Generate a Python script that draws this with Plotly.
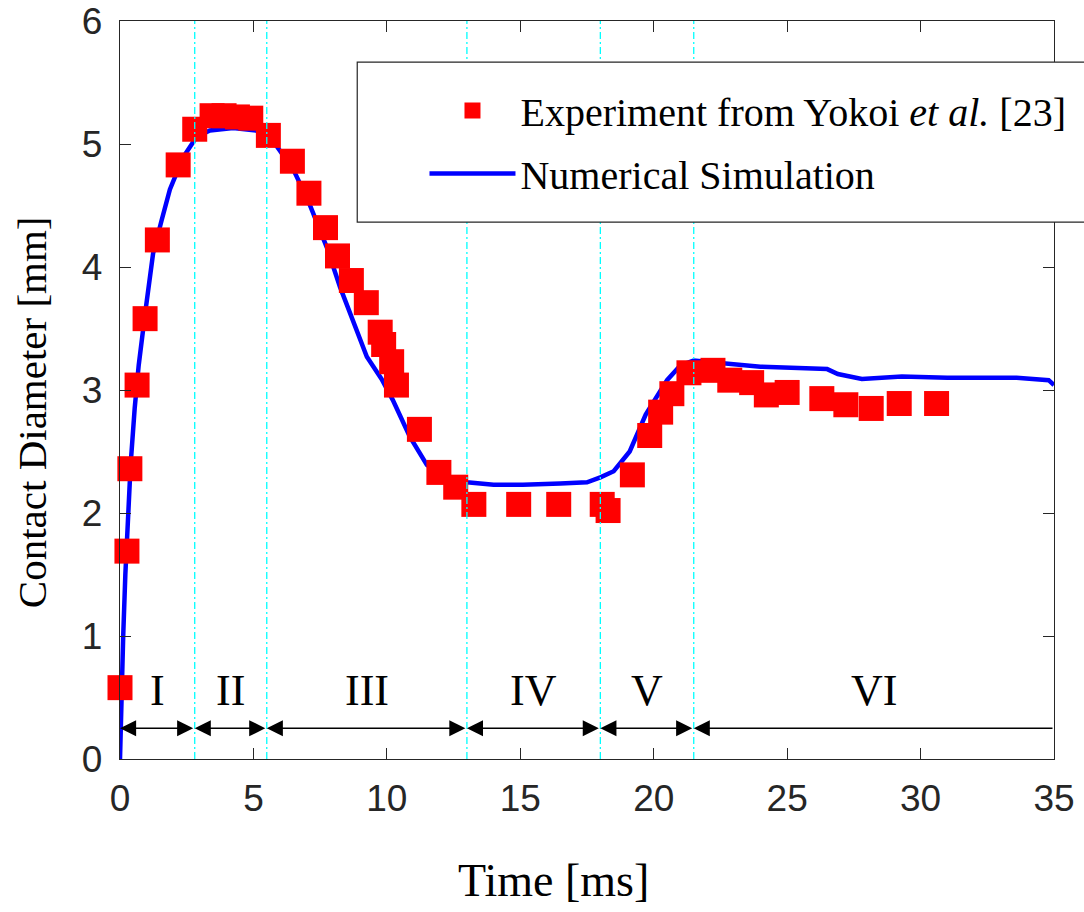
import plotly.graph_objects as go

# experiment, Yokoi et al. [23]
exp_t = [0.0, 0.26, 0.37, 0.64, 0.94, 1.40, 2.18, 2.80, 3.45, 3.90, 4.40, 4.90,
         5.56, 6.46, 7.08, 7.70, 8.15, 8.67, 9.23, 9.75, 9.88, 10.18, 10.36,
         11.22, 11.95, 12.58, 13.26, 14.94, 16.44, 18.07, 18.29, 19.20, 19.85,
         20.26, 20.68, 21.32, 22.22, 22.85, 23.67, 24.22, 25.00, 26.30, 27.20,
         28.15, 29.20, 30.60]
exp_d = [0.58, 1.69, 2.36, 3.04, 3.58, 4.22, 4.83, 5.12, 5.23, 5.23, 5.22, 5.21,
         5.07, 4.86, 4.60, 4.32, 4.09, 3.89, 3.71, 3.47, 3.37, 3.23, 3.04,
         2.68, 2.33, 2.21, 2.07, 2.07, 2.07, 2.07, 2.02, 2.31, 2.63,
         2.82, 2.97, 3.14, 3.16, 3.08, 3.06, 2.96, 2.98, 2.93, 2.88,
         2.85, 2.89, 2.89]

# numerical simulation
sim_t = [0.0, 0.05, 0.12, 0.2, 0.3, 0.4, 0.55, 0.7, 0.94, 1.24, 1.56, 1.87,
         2.36, 2.88, 3.37, 4.24, 5.1, 5.5, 5.88, 6.5, 7.05, 7.75, 8.24, 8.73,
         9.25, 9.8, 10.22, 10.86, 11.5, 12.25, 13.0, 14.0, 15.1, 16.5, 17.5,
         18.0, 18.5, 19.1, 19.7, 20.5, 21.0, 21.5, 22.9, 24.0, 26.5, 26.9,
         27.8, 29.3, 31.0, 33.6, 34.8, 35.0]
sim_d = [0.0, 0.5, 1.0, 1.5, 2.0, 2.4, 2.85, 3.2, 3.62, 4.11, 4.38, 4.63,
         4.89, 5.06, 5.11, 5.13, 5.11, 5.06, 4.98, 4.79, 4.54, 4.16, 3.84, 3.57,
         3.27, 3.09, 2.92, 2.62, 2.39, 2.28, 2.25, 2.23, 2.23, 2.24, 2.25,
         2.29, 2.34, 2.5, 2.8, 3.08, 3.2, 3.24, 3.21, 3.19, 3.17, 3.13,
         3.09, 3.11, 3.10, 3.10, 3.08, 3.04]

# impact regimes
regime_edges = [0, 2.8, 5.5, 13, 18, 21.5, 35]
regime_names = ["I", "II", "III", "IV", "V", "VI"]
arrow_y = 0.25
label_y = 0.56

x_ticks = [0, 5, 10, 15, 20, 25, 30, 35]
y_ticks = [0, 1, 2, 3, 4, 5, 6]

serif = "Times New Roman, Liberation Serif, serif"
sans = "Arial, Liberation Sans, sans-serif"
axis_col = "#262626"

fig = go.Figure()

fig.add_trace(go.Scatter(
    x=sim_t, y=sim_d, mode="lines", name="Numerical Simulation",
    line=dict(color="#0000FF", width=4.5), legendrank=2, legendgroup="sim"))

fig.add_trace(go.Scatter(
    x=exp_t, y=exp_d, mode="markers", name="Experiment from Yokoi <i>et al.</i> [23]",
    marker=dict(color="#FF0000", symbol="square", size=25, line=dict(width=0)),
    cliponaxis=False, legendrank=1, legendgroup="exp"))

# regime boundaries
for xb in regime_edges[1:-1]:
    fig.add_vline(x=xb, line=dict(color="#00FFFF", width=1.3, dash="7px,3px,2px,3px"))

# regime arrows + labels
for i, name in enumerate(regime_names):
    x0, x1 = regime_edges[i], regime_edges[i + 1]
    last = i == len(regime_names) - 1
    fig.add_annotation(
        x=x0, y=arrow_y, ax=x1, ay=arrow_y, xref="x", yref="y", axref="x", ayref="y",
        text="", showarrow=True, arrowhead=2, startarrowhead=2,
        arrowside="end" if last else "end+start",
        arrowsize=2.3, arrowwidth=1.4, arrowcolor="black", standoff=0, startstandoff=0)
    fig.add_annotation(
        x=(x0 + x1) / 2, y=label_y, xref="x", yref="y", text=name, showarrow=False,
        font=dict(family=serif, size=44, color="black"))

# axis titles (placed as in the original, a bit off-centre)
fig.add_annotation(text="Time [ms]", xref="paper", yref="paper", x=0.4636, y=0,
                   yshift=-121, showarrow=False, yanchor="middle",
                   font=dict(family=serif, size=46, color="black"))
fig.add_annotation(text="Contact Diameter [mm]", xref="paper", yref="paper", x=0, y=0.47,
                   xshift=-88, textangle=-90, showarrow=False, xanchor="center",
                   font=dict(family=serif, size=41, color="black"))

# legend box (MATLAB style)
fig.add_shape(type="rect", xref="paper", yref="paper", x0=0.254, x1=1.06,
              y0=0.7276, y1=0.9444, fillcolor="white",
              line=dict(color=axis_col, width=1.2))

fig.update_xaxes(
    range=[0, 35], tickvals=x_ticks, ticks="inside", ticklen=11, tickwidth=1.3,
    tickcolor=axis_col, showline=True, linecolor=axis_col, linewidth=1.3,
    mirror="ticks", showgrid=False, zeroline=False, automargin=False,
    tickfont=dict(family=sans, size=37, color=axis_col), ticklabelstandoff=6)

fig.update_yaxes(
    range=[0, 6], tickvals=y_ticks, ticks="inside", ticklen=11, tickwidth=1.3,
    tickcolor=axis_col, showline=True, linecolor=axis_col, linewidth=1.3,
    mirror="ticks", showgrid=False, zeroline=False, automargin=False,
    tickfont=dict(family=sans, size=37, color=axis_col), ticklabelstandoff=9)

fig.update_layout(
    width=1084, height=912,
    margin=dict(l=120, r=30, t=21, b=153),
    plot_bgcolor="white", paper_bgcolor="white",
    legend=dict(x=0.326, y=0.836, xanchor="left", yanchor="middle",
                bgcolor="rgba(0,0,0,0)", borderwidth=0,
                font=dict(family=serif, size=40, color="black"),
                itemwidth=86, traceorder="grouped", tracegroupgap=8),
)

# drop the default 8px page margin so the figure sits at the window corner
fig.write_html("out.html", config={"displayModeBar": False},
               post_script="document.body.style.margin='0px';")
